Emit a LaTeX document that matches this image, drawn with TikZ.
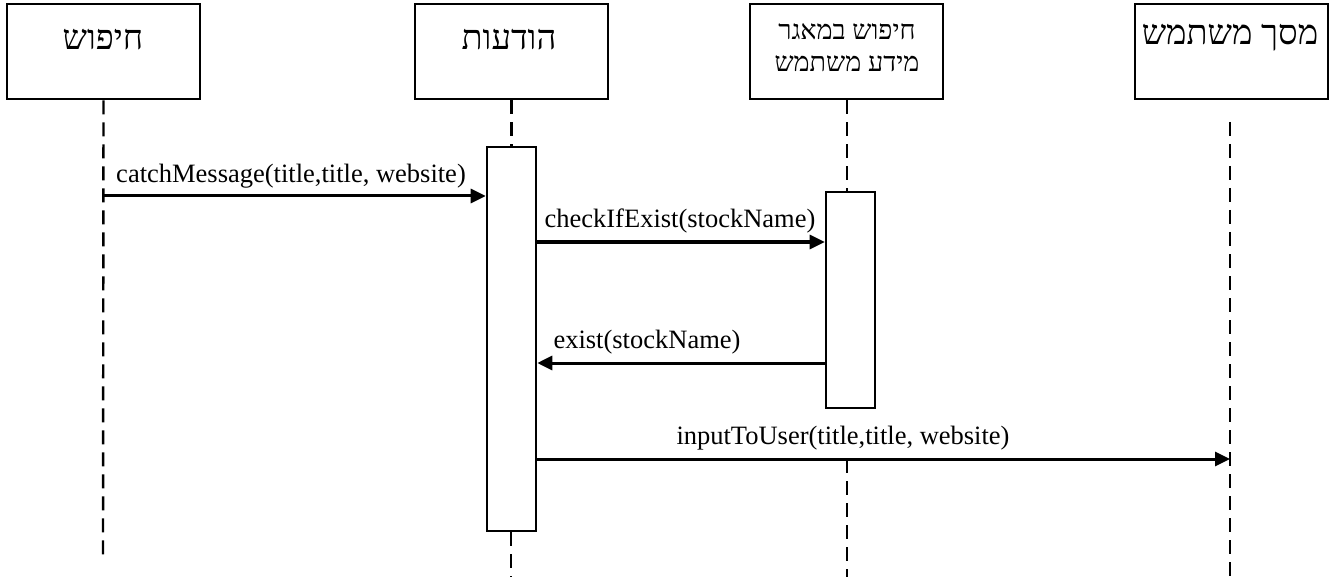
\documentclass[tikz,border=0pt]{standalone}
\usepackage{fontspec}
\setmainfont{Liberation Serif}
\newfontfamily\heb[Script=Hebrew]{Liberation Serif}
\TeXXeTstate=1
\usetikzlibrary{arrows.meta}
\tikzset{
  hdrbox/.style={draw, line width=2.6pt, minimum width=193pt, minimum height=95pt, inner sep=0pt},
  actbox/.style={draw, line width=2.6pt, fill=white, minimum width=49pt, inner sep=0pt},
  life/.style={line width=2.4pt, dash pattern=on 14pt off 8pt},
  msg/.style={line width=3pt, -{Triangle[length=15pt,width=14pt]}},
  hdrtxt/.style={font=\heb\fontsize{34.5}{38}\selectfont, inner sep=0pt},
  hdrtxtsm/.style={font=\heb\fontsize{27}{32}\selectfont, inner sep=0pt, align=center},
  lbl/.style={font=\fontsize{26.5}{30}\selectfont, inner sep=0pt, anchor=base}
}
\begin{document}
\begin{tikzpicture}[x=1pt,y=-1pt]
\useasboundingbox (0,0) rectangle (1329,577);
% header boxes
\node[hdrbox] (b1) at (103.5,51.5) {};
\node[hdrbox] (b2) at (511.5,51.5) {};
\node[hdrbox] (b3) at (846.5,51.5) {};
\node[hdrbox] (b4) at (1231.5,51.5) {};
\node[hdrtxt] (t1) at (103,40) {\beginR חיפוש\endR};
\node[hdrtxt] (t2) at (509,40) {\beginR הודעות\endR};
\node[hdrtxtsm] (t3) at (847,48) {\beginR חיפוש במאגר\endR\\\beginR מידע משתמש\endR};
\node[hdrtxt] (t4) at (1230,38) {\beginR מסך משתמש\endR};
% lifelines
\coordinate (l1e) at (103,555);
\coordinate (l2e) at (511,577);
\coordinate (l3e) at (847,577);
\coordinate (l4s) at (1230,122);
\coordinate (l4e) at (1230,577);
\node[actbox, minimum height=384pt] (a2) at (511.5,339) {};
\node[actbox, minimum height=216pt] (a3) at (850.5,300) {};
% messages coordinates
\coordinate (m1) at (103,196);
\coordinate (m2) at (537,242);
\coordinate (m3) at (826,363);
\coordinate (m4) at (537,459);
\draw[life] (b1.south) -- (l1e);
\draw[life] (b2.south) -- (a2.north);
\draw[life] (a2.south -| l2e) -- (l2e);
\draw[life] (b3.south -| l3e) -- (l3e |- a3.north);
\draw[life] (l3e |- m4) -- (l3e);
\draw[life] (l4s) -- (l4e);
\draw[msg] (m1) -- (a2.west |- m1);
\draw[msg] (a2.east |- m2) -- (a3.west |- m2);
\draw[msg] (m3) -- (a2.east |- m3);
\draw[msg] (m4) -- (l4e |- m4);
\node[lbl] (L1) at (291,183) {catchMessage(title,title, website)};
\node[lbl] (L2) at (680,228) {checkIfExist(stockName)};
\node[lbl] (L3) at (647,348) {exist(stockName)};
\node[lbl] (L4) at (843,444) {inputToUser(title,title, website)};
\end{tikzpicture}
\end{document}
